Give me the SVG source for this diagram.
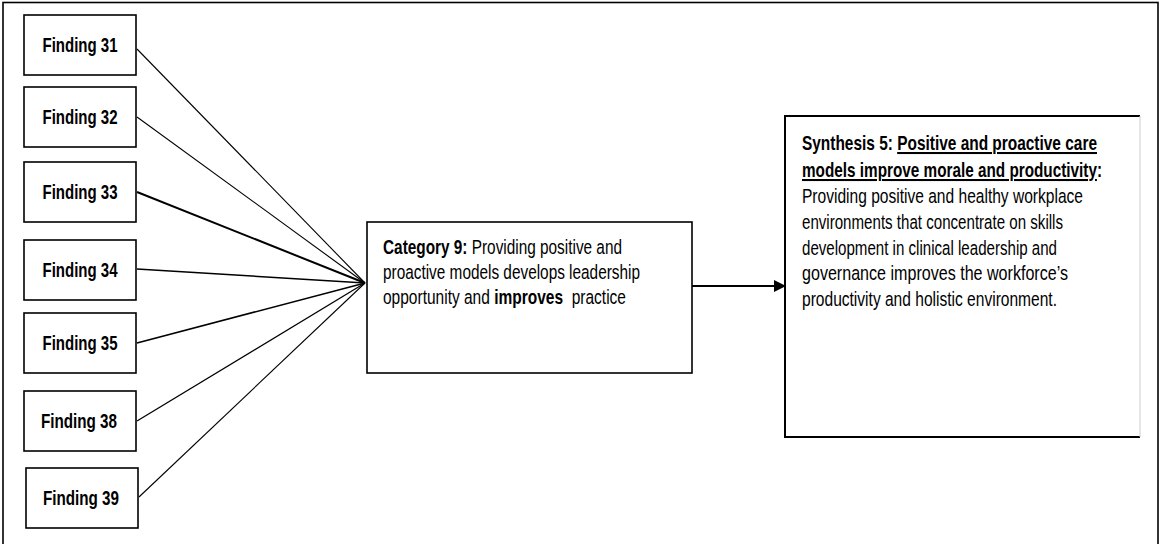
<svg xmlns="http://www.w3.org/2000/svg" width="1160" height="544" viewBox="0 0 1160 544">
<defs>
<style>
.box{fill:#fff;stroke:#000;stroke-width:1.6}
.lbl{font-family:"Liberation Sans Narrow","Liberation Sans",Arial,sans-serif;font-weight:bold;font-size:20px;fill:#000}
.txt{font-family:"Liberation Sans Narrow","Liberation Sans",Arial,sans-serif;font-size:20.5px;fill:#000}
.b{font-weight:bold}
.u{text-decoration:underline}
.ln{stroke:#000;fill:none}
</style>
<marker id="ah" markerWidth="12" markerHeight="12" refX="11" refY="6" orient="auto" markerUnits="userSpaceOnUse">
<path d="M0,0 L12,6 L0,12 Z" fill="#000"/>
</marker>
</defs>
<rect x="0" y="0" width="1160" height="544" fill="#fff"/>
<rect x="3" y="2.5" width="1155" height="560" fill="none" stroke="#000" stroke-width="1.6"/>

<g id="connectors">
<line class="ln" x1="137" y1="49" x2="365" y2="283" stroke-width="1.1"/>
<line class="ln" x1="137" y1="117" x2="365" y2="283" stroke-width="1.1"/>
<line class="ln" x1="137" y1="192" x2="365" y2="283" stroke-width="2"/>
<line class="ln" x1="137" y1="269" x2="365" y2="283" stroke-width="1.6"/>
<line class="ln" x1="137" y1="343" x2="365" y2="283" stroke-width="1.6"/>
<line class="ln" x1="137" y1="421" x2="365" y2="283" stroke-width="1.3"/>
<line class="ln" x1="139" y1="497" x2="365" y2="283" stroke-width="1.1"/>
<line class="ln" x1="692" y1="286" x2="785" y2="286" stroke-width="2" marker-end="url(#ah)"/>
</g>

<g id="f31"><rect class="box" x="24" y="15" width="112" height="60"/><text class="lbl" x="80" y="52" text-anchor="middle" textLength="75" lengthAdjust="spacingAndGlyphs">Finding 31</text></g>
<g id="f32"><rect class="box" x="24" y="87" width="112" height="60"/><text class="lbl" x="80" y="124" text-anchor="middle" textLength="75" lengthAdjust="spacingAndGlyphs">Finding 32</text></g>
<g id="f33"><rect class="box" x="24" y="162" width="112" height="60"/><text class="lbl" x="80" y="199" text-anchor="middle" textLength="75" lengthAdjust="spacingAndGlyphs">Finding 33</text></g>
<g id="f34"><rect class="box" x="24" y="240" width="112" height="60"/><text class="lbl" x="80" y="277" text-anchor="middle" textLength="75" lengthAdjust="spacingAndGlyphs">Finding 34</text></g>
<g id="f35"><rect class="box" x="24" y="313" width="112" height="60"/><text class="lbl" x="80" y="350" text-anchor="middle" textLength="75" lengthAdjust="spacingAndGlyphs">Finding 35</text></g>
<g id="f38"><rect class="box" x="24" y="391" width="112" height="60"/><text class="lbl" x="79" y="428" text-anchor="middle" textLength="76" lengthAdjust="spacingAndGlyphs">Finding 38</text></g>
<g id="f39"><rect class="box" x="26" y="468" width="112" height="60"/><text class="lbl" x="81" y="505" text-anchor="middle" textLength="76" lengthAdjust="spacingAndGlyphs">Finding 39</text></g>

<g id="category9">
<rect class="box" x="367" y="222" width="325" height="151"/>
<text class="txt" x="383" y="254" textLength="239" lengthAdjust="spacingAndGlyphs"><tspan class="b">Category 9:</tspan> Providing positive and</text>
<text class="txt" x="383" y="279" textLength="257" lengthAdjust="spacingAndGlyphs">proactive models develops leadership</text>
<text class="txt" x="383" y="304" textLength="243" lengthAdjust="spacingAndGlyphs">opportunity and <tspan class="b">improves</tspan>&#160; practice</text>
</g>

<g id="synthesis5">
<path d="M1140,116 H785 V437 H1140" fill="#fff" stroke="#000" stroke-width="2"/>
<line x1="1140" y1="116" x2="1140" y2="437" stroke="#ccc" stroke-width="1"/>
<text class="txt b" x="802" y="150" textLength="295" lengthAdjust="spacingAndGlyphs">Synthesis 5: <tspan class="u">Positive and proactive care</tspan></text>
<text class="txt b" x="802" y="177" textLength="300" lengthAdjust="spacingAndGlyphs"><tspan class="u">models improve morale and productivity</tspan>:</text>
<text class="txt" x="802" y="203" textLength="281" lengthAdjust="spacingAndGlyphs">Providing positive and healthy workplace</text>
<text class="txt" x="802" y="229" textLength="261" lengthAdjust="spacingAndGlyphs">environments that concentrate on skills</text>
<text class="txt" x="802" y="255" textLength="255" lengthAdjust="spacingAndGlyphs">development in clinical leadership and</text>
<text class="txt" x="802" y="280" textLength="266" lengthAdjust="spacingAndGlyphs">governance improves the workforce’s</text>
<text class="txt" x="802" y="306" textLength="255" lengthAdjust="spacingAndGlyphs">productivity and holistic environment.</text>
</g>
</svg>
